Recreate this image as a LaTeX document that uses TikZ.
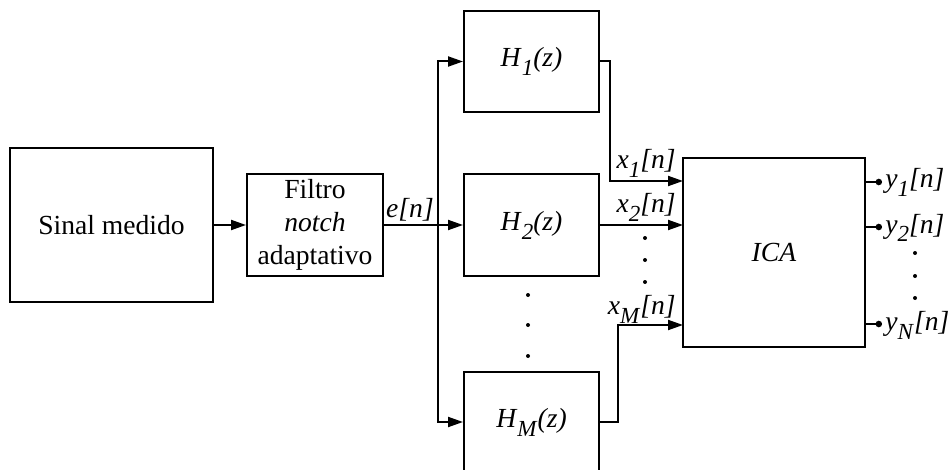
\documentclass[tikz,border=0pt]{standalone}
\usepackage{fontspec}
\setmainfont{Liberation Serif}
\usetikzlibrary{positioning, arrows.meta}
\newcommand{\sig}[3]{\textit{#1}\raisebox{-4.5pt}{\fontsize{11.5}{12}\selectfont\textit{#2}}\textit{#3}}

\begin{document}
\begin{tikzpicture}[x=0.5pt, y=-0.5pt,
    block/.style={rectangle, draw, line width=1pt, inner sep=0pt, align=center, font=\fontsize{13.8}{16.5}\selectfont},
    hbox/.style={block, minimum width=67.5pt, minimum height=50.5pt},
    arrow/.style={-{Triangle[length=7.5pt, width=5pt]}, line width=1pt},
    outwire/.style={-{Circle[length=3.2pt]}, line width=1pt},
    sig/.style={font=\fontsize{13.8}{16.5}\selectfont, inner sep=0pt}
]
    \useasboundingbox (0,0) rectangle (951,470);

    % Input chain
    \node[block, minimum width=101.5pt, minimum height=76.5pt] (sinal) at (111.5,225) {Sinal medido};
    \node[block, minimum width=68pt, minimum height=50.5pt] (filtro) at (315,225) {Filtro\\\textit{notch}\\adaptativo};
    \draw[arrow] (sinal.east) -- (filtro.west);

    % Filter bank
    \node[hbox] (h1) at (531.5,61.5) {\sig{H}{1}{(z)}};
    \node[hbox] (h2) at (531.5,225) {\sig{H}{2}{(z)}};
    \node[hbox] (hm) at (531.5,422) {\sig{H}{M}{(z)}};

    \coordinate (bus) at (438,225);
    \draw[arrow] (filtro.east) -- (h2.west);
    \draw[arrow] (bus) |- (h1.west);
    \draw[arrow] (bus) |- (hm.west);
    \node[sig, anchor=base] (le) at (410,217) {\textit{e[n]}};

    \fill (528,295) circle (2);
    \fill (528,325) circle (2);
    \fill (528,356) circle (2);

    % ICA block
    \node[block, minimum width=91pt, minimum height=94.5pt] (ica) at (774,252.5) {\textit{ICA}};

    \coordinate (in1) at (683,181);
    \coordinate (in2) at (683,225);
    \coordinate (inm) at (683,325);
    \draw[arrow] (h1.east) -- ++(10,0) |- (in1);
    \draw[arrow] (h2.east) -- (in2);
    \draw[arrow] (hm.east) -- ++(18,0) |- (inm);

    \node[sig, anchor=base east] (lx1) at (676,169) {\sig{x}{1}{[n]}};
    \node[sig, anchor=base east] (lx2) at (676,213) {\sig{x}{2}{[n]}};
    \node[sig, anchor=base east] (lxm) at (676,314) {\sig{x}{M}{[n]}};

    \fill (645,238) circle (2);
    \fill (645,260) circle (2);
    \fill (645,282) circle (2);

    % Outputs
    \coordinate (out1) at (882,182);
    \coordinate (out2) at (882,227);
    \coordinate (outn) at (882,324);
    \draw[outwire] (ica.east |- out1) -- (out1);
    \draw[outwire] (ica.east |- out2) -- (out2);
    \draw[outwire] (ica.east |- outn) -- (outn);

    \node[sig, anchor=base west] (ly1) at (885,188) {\sig{y}{1}{[n]}};
    \node[sig, anchor=base west] (ly2) at (885,233) {\sig{y}{2}{[n]}};
    \node[sig, anchor=base west] (lyn) at (885,330) {\sig{y}{N}{[n]}};

    \fill (915,253) circle (2);
    \fill (915,276) circle (2);
    \fill (915,298) circle (2);

\end{tikzpicture}
\end{document}
